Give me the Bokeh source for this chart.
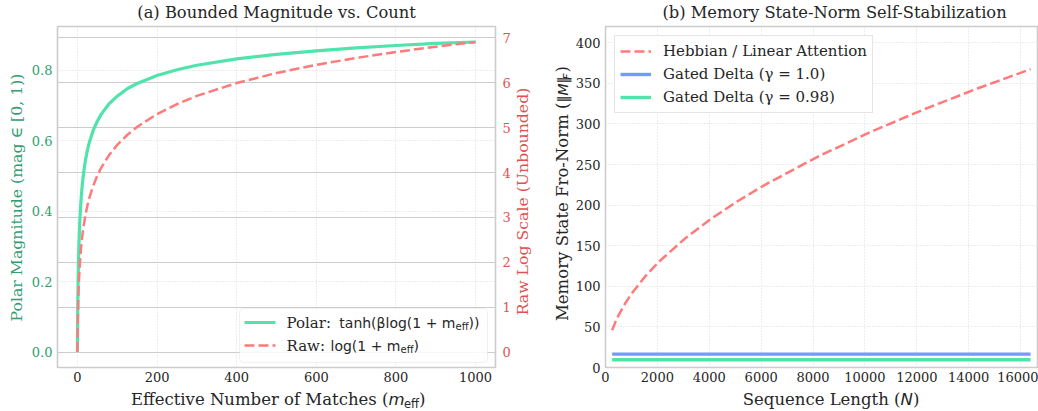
import math
from bokeh.plotting import figure
from bokeh.models import (Range1d, LinearAxis, FixedTicker, Grid, BoxAnnotation,
                          Legend, LegendItem, NumeralTickFormatter)
from bokeh.core.properties import value
from bokeh.layouts import row
from bokeh.embed import file_html
from bokeh.resources import INLINE

# ---------------- data ----------------
m_eff = [0, 1, 2, 3, 4, 6, 8, 10, 13, 16, 20, 25, 30, 40, 50, 60, 80, 100, 125, 150,
         200, 250, 300, 400, 500, 600, 700, 800, 900, 1000]
polar_mag = [0.0, 0.138, 0.216, 0.270, 0.311, 0.371, 0.413, 0.446, 0.484, 0.513,
             0.544, 0.573, 0.596, 0.631, 0.656, 0.676, 0.706, 0.727, 0.748, 0.763,
             0.786, 0.802, 0.815, 0.833, 0.846, 0.856, 0.864, 0.871, 0.877, 0.881]
raw_log = [0.0, 0.693, 1.099, 1.386, 1.609, 1.946, 2.197, 2.398, 2.639, 2.833,
           3.045, 3.258, 3.434, 3.714, 3.932, 4.111, 4.394, 4.615, 4.836, 5.017,
           5.303, 5.525, 5.707, 5.994, 6.217, 6.399, 6.553, 6.686, 6.804, 6.909]

seq_len = [256, 384, 512, 768, 1024, 1536, 2048, 3072, 4096, 5120, 6144, 8192,
           10240, 12288, 14336, 16384]
hebbian = [45.9, 56.2, 64.9, 79.5, 91.8, 112.5, 129.9, 159.1, 183.7, 205.4, 225.0,
           259.8, 290.4, 318.1, 343.6, 367.4]
gated_g100 = [16.5, 16.5, 16.5, 16.5, 16.5, 16.5, 16.5, 16.5, 16.5, 16.5, 16.5,
              16.5, 16.5, 16.5, 16.5, 16.5]
gated_g098 = [9.5, 9.5, 9.5, 9.5, 9.5, 9.5, 9.5, 9.5, 9.5, 9.5, 9.5,
              9.5, 9.5, 9.5, 9.5, 9.5]

left_x_ticks = [0, 200, 400, 600, 800, 1000]
left_y_ticks = [0.0, 0.2, 0.4, 0.6, 0.8]
raw_ticks = [0, 1, 2, 3, 4, 5, 6, 7]
seq_ticks = [0, 2000, 4000, 6000, 8000, 10000, 12000, 14000, 16000]
norm_ticks = [0, 50, 100, 150, 200, 250, 300, 350, 400]

legend_b = ["Hebbian / Linear Attention", "Gated Delta (γ = 1.0)", "Gated Delta (γ = 0.98)"]

# ---------------- style ----------------
SERIF = "DejaVu Serif"
SANS = "DejaVu Sans"
GREEN = "#50E3AC"
RED = "#FF7A7A"
BLUE = "#6F9DFF"
GREEN_TXT = "#2E9E70"
RED_TXT = "#E05252"
TXT = "#262626"
FRAME = "#CCCCCC"
GRID = "#DADADA"

H = 411
T, B = 26, 367
LBL = 16.5   # x-axis-label font size (px)
YLBL = 15.7  # rotated y-axis-label font size (px)


def mapper(L, R, xr, yr):
    def dx(px):
        return xr[0] + (px - L) / (R - L) * (xr[1] - xr[0])

    def dy(py):
        return yr[1] - (py - T) / (B - T) * (yr[1] - yr[0])
    return dx, dy


def style_axis(ax, color=TXT, standoff=5):
    ax.axis_line_color = None
    ax.major_tick_line_color = None
    ax.minor_tick_line_color = None
    ax.major_tick_out = 0
    ax.major_tick_in = 0
    ax.minor_tick_out = 0
    ax.major_label_text_font = SERIF
    ax.major_label_text_font_size = "13px"
    ax.major_label_text_color = color
    ax.major_label_standoff = standoff


def base_fig(W, L, R, xr, yr):
    p = figure(width=W, height=H, x_range=Range1d(*xr), y_range=Range1d(*yr),
               output_backend="svg", toolbar_location=None, title=None,
               min_border_left=L, min_border_right=W - R, min_border_top=T,
               min_border_bottom=H - B)
    p.background_fill_color = "white"
    p.border_fill_color = "white"
    p.outline_line_color = FRAME
    p.outline_line_width = 1.6
    for g in (p.xgrid[0], p.ygrid[0]):
        g.grid_line_color = GRID
        g.grid_line_dash = "1 2"
        g.grid_line_width = 1
    return p


# ================= (a) =================
W1, L1, R1 = 548, 57, 495
X1 = (-50, 1050)
Y1 = (-0.044, 0.925)
Y1R = (-0.345, 7.254)
p1 = base_fig(W1, L1, R1, X1, Y1)
dx1, dy1 = mapper(L1, R1, X1, Y1)

p1.xaxis.ticker = FixedTicker(ticks=left_x_ticks)
p1.xaxis.formatter = NumeralTickFormatter(format="0")
p1.yaxis.ticker = FixedTicker(ticks=left_y_ticks)
p1.yaxis.formatter = NumeralTickFormatter(format="0.0")
style_axis(p1.xaxis[0], standoff=4)
style_axis(p1.yaxis[0], GREEN_TXT, standoff=5)
p1.xgrid[0].ticker = FixedTicker(ticks=left_x_ticks)
p1.ygrid[0].ticker = FixedTicker(ticks=left_y_ticks)

p1.extra_y_ranges = {"raw": Range1d(*Y1R)}
raxis = LinearAxis(y_range_name="raw", ticker=FixedTicker(ticks=raw_ticks))
style_axis(raxis, RED_TXT, standoff=7)
p1.add_layout(raxis, "right")
p1.add_layout(Grid(dimension=1, ticker=FixedTicker(ticks=raw_ticks), y_range_name="raw",
                   grid_line_color=FRAME, grid_line_width=1.2))

# legend box (under the data lines)
p1.add_layout(BoxAnnotation(left=dx1(239), right=dx1(487), top=dy1(308), bottom=dy1(362),
                            fill_color="white", fill_alpha=0.85, line_color=FRAME,
                            line_width=1, border_radius=4, level="underlay"))

p1.line(m_eff, polar_mag, color=GREEN, line_width=3.2)
p1.line(m_eff, raw_log, color=RED, line_width=2.5, line_dash="10 4", y_range_name="raw")

# legend samples
p1.line([dx1(244), dx1(275)], [dy1(322), dy1(322)], color=GREEN, line_width=3.2)
p1.line([dx1(244), dx1(275)], [dy1(345), dy1(345)], color=RED, line_width=2.5,
        line_dash="10 4")

# ================= (b) =================
W2, L2, R2 = 490, 57, 490
X2 = (0, 16690)
Y2 = (0, 420)
p2 = base_fig(W2, L2, R2, X2, Y2)

p2.xaxis.ticker = FixedTicker(ticks=seq_ticks)
p2.xaxis.formatter = NumeralTickFormatter(format="0")
p2.yaxis.ticker = FixedTicker(ticks=norm_ticks)
p2.yaxis.formatter = NumeralTickFormatter(format="0")
style_axis(p2.xaxis[0], standoff=4)
style_axis(p2.yaxis[0], standoff=5)
p2.xgrid[0].ticker = FixedTicker(ticks=seq_ticks)
p2.ygrid[0].ticker = FixedTicker(ticks=norm_ticks)

r_h = p2.line(seq_len, hebbian, color=RED, line_width=2.5, line_dash="10 4")
r_b = p2.line(seq_len, gated_g100, color=BLUE, line_width=3.4)
r_g = p2.line(seq_len, gated_g098, color=GREEN, line_width=3.4)

leg = Legend(items=[LegendItem(label=legend_b[0], renderers=[r_h]),
                    LegendItem(label=legend_b[1], renderers=[r_b]),
                    LegendItem(label=legend_b[2], renderers=[r_g])],
             location="top_left")
leg.label_text_font = SERIF
leg.label_text_font_size = "15px"
leg.label_text_color = TXT
leg.glyph_width = 31
leg.glyph_height = 20
leg.label_height = 20
leg.spacing = 3
leg.padding = 5
leg.margin = 9
leg.label_standoff = 12
leg.border_line_color = FRAME
leg.border_line_width = 1
leg.background_fill_alpha = 0.85
p2.add_layout(leg)

# ================= text overlay (page pixel coordinates, separate root) =================
WO = W1 + W2
p3 = figure(width=WO, height=H, x_range=Range1d(0, WO), y_range=Range1d(0, H),
            output_backend="svg", toolbar_location=None, title=None,
            x_axis_type=None, y_axis_type=None, min_border=0)
p3.outline_line_color = None
p3.background_fill_alpha = 0
p3.border_fill_alpha = 0
p3.styles = {"position": "absolute", "left": "0px", "top": "0px",
             "pointer-events": "none"}


def txt(px, py, text, font=SERIF, size=LBL, color=TXT, align="center", angle=0.0,
        style="normal"):
    p3.text(x=[px], y=[H - py], text=[text], text_font=value(font),
            text_font_size=f"{size}px", text_color=color, text_align=align,
            text_baseline="middle", angle=angle, text_font_style=style)


ROT = math.pi / 2
# panel (a)
txt(276, 12, "(a) Bounded Magnitude vs. Count", size=16.3)
txt(388, 399, "Effective Number of Matches (", align="right")
txt(388, 399, "m", font=SANS, align="left", style="italic")
txt(403.5, 403.5, "eff", font=SANS, size=11.5, align="left")
txt(418.5, 399, ")", align="left")
txt(16, 197, "Polar Magnitude (mag ∈ [0, 1))", size=YLBL, color=GREEN_TXT, angle=ROT)
txt(522, 201, "Raw Log Scale (Unbounded)", size=YLBL, color=RED_TXT, angle=ROT)
# legend of (a)
txt(286, 322, "Polar:", size=15, align="left")
txt(455, 322, "tanh(βlog(1 + m", font=SANS, size=14, align="right")
txt(455, 326, "eff", font=SANS, size=10, align="left")
txt(468, 322, "))", font=SANS, size=14, align="left")
txt(286, 345, "Raw:", size=15, align="left")
txt(400, 345, "log(1 + m", font=SANS, size=14, align="right")
txt(400, 349, "eff", font=SANS, size=10, align="left")
txt(413, 345, ")", font=SANS, size=14, align="left")
# panel (b)
txt(834, 12, "(b) Memory State-Norm Self-Stabilization", size=16.3)
txt(900, 399, "Sequence Length (", align="right")
txt(900, 399, "N", font=SANS, align="left", style="italic")
txt(912.5, 399, ")", align="left")
txt(562, 102, "Memory State Fro-Norm (", align="right", angle=ROT)
txt(562, 102, "‖M‖", font=SANS, size=14, align="left", angle=ROT, style="italic")
txt(566, 79, "F", font=SANS, size=10.5, align="left", angle=ROT, style="italic")
txt(562, 72, ")", align="left", angle=ROT)

layout = row(p1, p2)
open("out.html", "w").write(file_html([layout, p3], INLINE))
